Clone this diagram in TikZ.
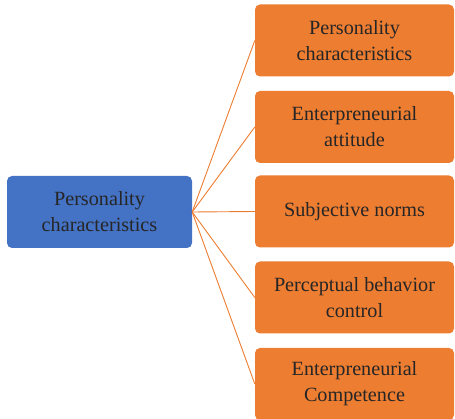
\documentclass[tikz,border=0pt]{standalone}
\usepackage{fontspec}
\setmainfont{Liberation Serif}
\definecolor{boxblue}{HTML}{4472C4}
\definecolor{boxorange}{HTML}{ED7D31}
\definecolor{inktext}{HTML}{262626}
\begin{document}
\begin{tikzpicture}[x=1pt,y=-1pt,
  base/.style={rounded corners=5pt, align=center, text=inktext,
    font=\fontsize{20.2}{26}\selectfont, inner sep=0pt},
  rootbox/.style={base, fill=boxblue, minimum width=185pt, minimum height=72pt},
  leafbox/.style={base, fill=boxorange, minimum width=199pt, minimum height=72pt},
  link/.style={draw=boxorange, line width=0.9pt}]
\useasboundingbox (0,0) rectangle (455,419);
\node[rootbox] (root) at (99.5,212) {Personality\\characteristics};
\node[leafbox] (l1) at (354.5,40.5) {Personality\\characteristics};
\node[leafbox] (l2) at (354.5,127) {Enterpreneurial\\attitude};
\node[leafbox] (l3) at (354.5,211.5) {Subjective norms};
\node[leafbox] (l4) at (354.5,297.5) {Perceptual behavior\\control};
\node[leafbox] (l5) at (354.5,384) {Enterpreneurial\\Competence};
\foreach \n in {l1,l2,l3,l4,l5}
  \draw[link] (root.east) -- (\n.west);
\end{tikzpicture}
\end{document}
